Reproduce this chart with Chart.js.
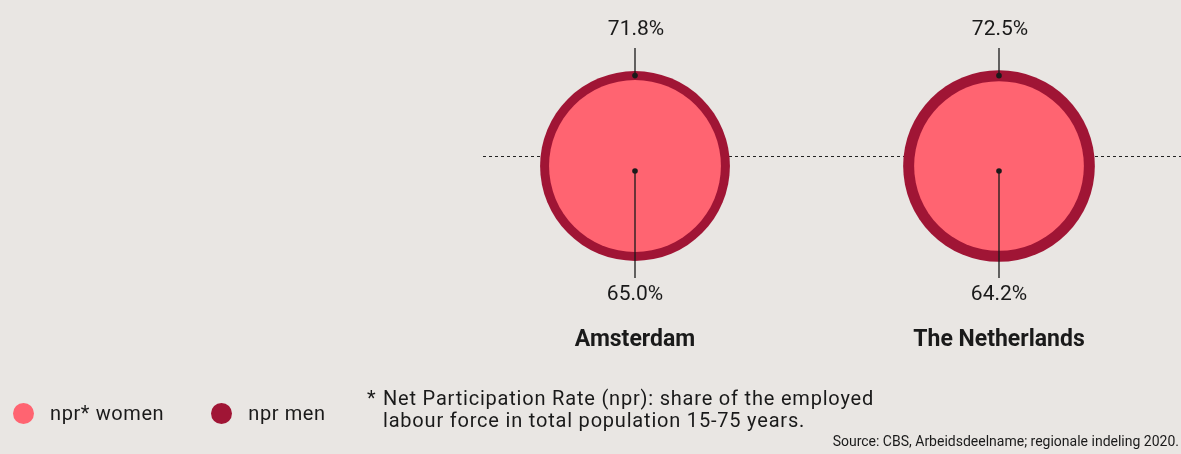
<!DOCTYPE html>
<html>
<head>
<meta charset="utf-8">
<script src="https://cdn.jsdelivr.net/npm/chart.js@4/dist/chart.umd.min.js"></script>
<style>
    body { margin: 0; background: #e9e6e3; font-family: Roboto, "Liberation Sans", sans-serif; color: #1a1a1a; }
    #wrap { position: relative; width: 1181px; height: 454px; overflow: hidden; }
    #chart { position: absolute; left: 0; top: 0; }
    #legend { position: absolute; left: 13px; top: 401px; display: flex; align-items: center; font-size: 20px; letter-spacing: 0.6px; }
    #legend .item { display: flex; align-items: center; margin-right: 47px; }
    #legend .dot { width: 21px; height: 21px; border-radius: 50%; margin-right: 16px; }
    #note { position: absolute; left: 367px; top: 387px; font-size: 20px; line-height: 22px; letter-spacing: 0.8px; }
    #note span { display: inline-block; width: 16px; }
    #note .indent { padding-left: 16px; }
    #source { position: absolute; right: 2px; top: 433px; font-size: 14px; }
</style>
</head>
<body>
<div id="wrap">
    <canvas id="chart" width="1181" height="454"></canvas>
    <div id="legend"></div>
    <div id="note">
        <div><span>*</span>Net Participation Rate (npr): share of the employed</div>
        <div class="indent">labour force in total population 15-75 years.</div>
    </div>
    <div id="source">Source: CBS, Arbeidsdeelname; regionale indeling 2020.</div>
</div>
<script>
// Net participation rate, %
const regions = ['Amsterdam', 'The Netherlands'];
const nprWomen = [65.0, 64.2];
const nprMen = [71.8, 72.5];

// bubble radius in px per percentage point
const PX_PER_PCT = 1.322;

const pink = '#ff6471';
const darkRed = '#a01535';

const toBubbles = (values) => values.map((v, i) => ({ x: regions[i], y: 0, r: v * PX_PER_PCT, value: v }));

// labels, pointer lines and the dashed reference line
const annotations = {
    id: 'annotations',
    beforeDatasetsDraw(chart) {
        const { ctx, chartArea, scales } = chart;
        const y = scales.y.getPixelForValue(0) - 10;
        ctx.save();
        ctx.strokeStyle = '#222';
        ctx.lineWidth = 1;
        ctx.setLineDash([3, 3]);
        ctx.beginPath();
        ctx.moveTo(chartArea.left + 30, y + 0.5);
        ctx.lineTo(chartArea.right, y + 0.5);
        ctx.stroke();
        ctx.restore();
    },
    afterDatasetsDraw(chart) {
        const { ctx, scales } = chart;
        const women = chart.getDatasetMeta(0).data;
        const men = chart.getDatasetMeta(1).data;

        ctx.save();
        ctx.fillStyle = '#1a1a1a';
        ctx.strokeStyle = '#1a1a1a';
        ctx.lineWidth = 1.3;
        ctx.textAlign = 'center';
        ctx.textBaseline = 'middle';

        regions.forEach((name, i) => {
            const x = scales.x.getPixelForValue(i);
            const cy = women[i].y;
            const rW = women[i].options.radius;
            const rM = men[i].options.radius;

            // men: dot on the ring, line up to the label
            const topDot = cy - (rM + rW) / 2;
            ctx.beginPath();
            ctx.moveTo(x, topDot);
            ctx.lineTo(x, cy - 118);
            ctx.stroke();
            ctx.beginPath();
            ctx.arc(x, topDot, 2.8, 0, Math.PI * 2);
            ctx.fill();

            // women: dot near the centre, line down to the label
            const midDot = cy + 5;
            ctx.beginPath();
            ctx.moveTo(x, midDot);
            ctx.lineTo(x, cy + 112);
            ctx.stroke();
            ctx.beginPath();
            ctx.arc(x, midDot, 2.8, 0, Math.PI * 2);
            ctx.fill();

            ctx.font = '21px Roboto';
            ctx.fillText(nprMen[i].toFixed(1) + '%', x + 1, cy - 136);
            ctx.fillText(nprWomen[i].toFixed(1) + '%', x, cy + 129);

            ctx.font = 'bold 23px Roboto';
            ctx.fillText(name, x, cy + 174);
        });
        ctx.restore();
    }
};

const chart = new Chart(document.getElementById('chart'), {
    type: 'bubble',
    data: {
        labels: regions,
        datasets: [
            { label: 'npr* women', data: toBubbles(nprWomen), backgroundColor: pink, borderWidth: 0 },
            { label: 'npr men', data: toBubbles(nprMen), backgroundColor: darkRed, borderWidth: 0 },
        ],
    },
    options: {
        responsive: false,
        animation: false,
        events: [],
        layout: {
            autoPadding: false,
            padding: { left: 453, right: 0, top: 0, bottom: 122 },
        },
        scales: {
            x: { type: 'category', offset: true, display: false },
            y: { min: -1, max: 1, display: false },
        },
        plugins: {
            legend: { display: false },
            tooltip: { enabled: false },
        },
    },
    plugins: [annotations],
});

// html legend from the datasets
const legendEl = document.getElementById('legend');
chart.data.datasets.forEach((ds) => {
    const item = document.createElement('div');
    item.className = 'item';
    item.innerHTML = '<div class="dot" style="background:' + ds.backgroundColor + '"></div>' + ds.label;
    legendEl.appendChild(item);
});
</script>
</body>
</html>
